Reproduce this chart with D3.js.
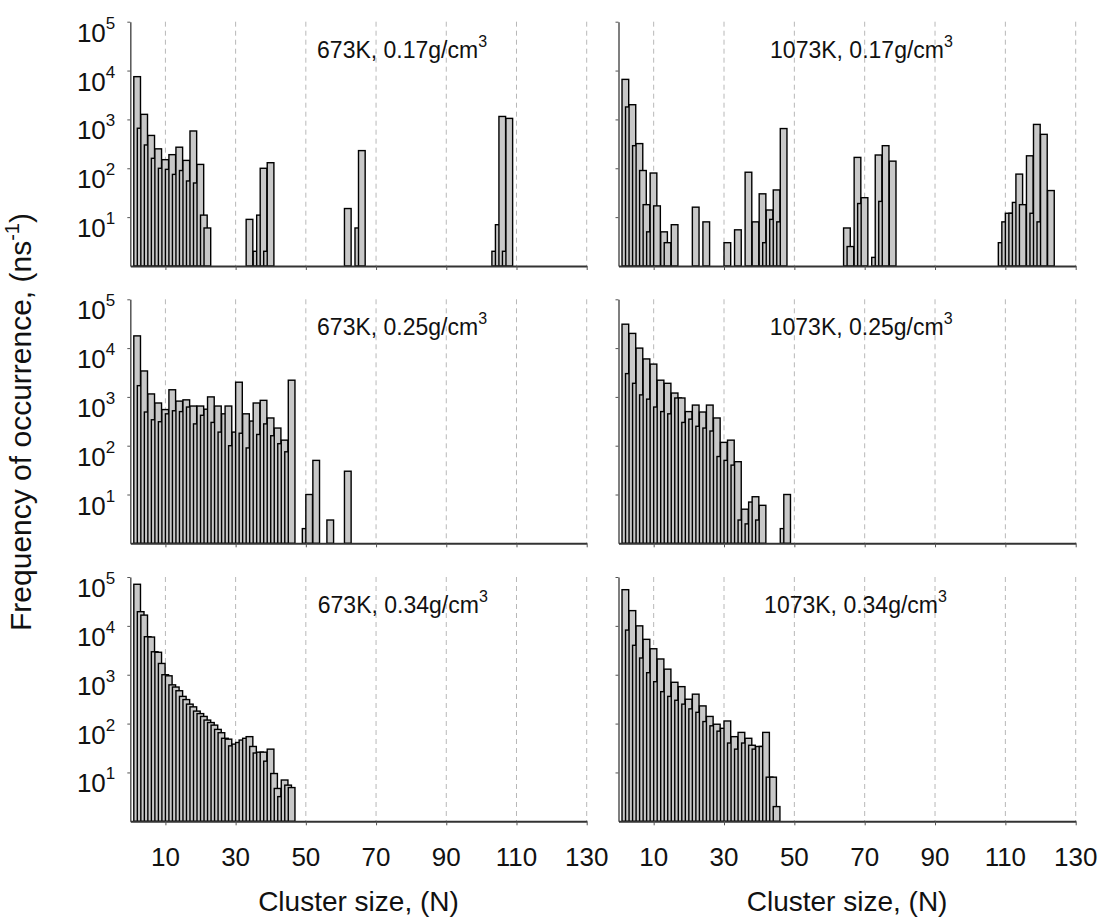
<!DOCTYPE html>
<html>
<head>
<meta charset="utf-8">
<script src="https://cdn.jsdelivr.net/npm/d3@7"></script>
<style>
  body { margin: 0; background: #fff; }
  text { font-family: Arial, "Liberation Sans", sans-serif; fill: #111; }
</style>
</head>
<body>
<svg width="1101" height="918"></svg>
<script>
// Frequency of occurrence (ns^-1) per cluster size, index 0 -> N = 1, 0 = not observed
var f673_017 = [
    7500, 660, 1270, 300, 470, 160, 250, 100, 150, 95,
    190, 75, 270, 90, 145, 55, 580, 50, 120, 11,
    6, 0, 0, 0, 0, 0, 0, 0, 0, 0,
    0, 0, 9, 0, 2, 11, 100, 2, 130, 0,
    0, 0, 0, 0, 0, 0, 0, 0, 0, 0,
    0, 0, 0, 0, 0, 0, 0, 0, 0, 0,
    15, 0, 0, 6, 230, 0, 0, 0, 0, 0,
    0, 0, 0, 0, 0, 0, 0, 0, 0, 0,
    0, 0, 0, 0, 0, 0, 0, 0, 0, 0,
    0, 0, 0, 0, 0, 0, 0, 0, 0, 0,
    0, 0, 2, 7, 1150, 2, 1050
];
var f1073_017 = [
    6600, 1800, 2000, 290, 320, 90, 18, 5, 80, 17,
    0, 5, 3, 0, 7, 0, 0, 0, 0, 0,
    16, 0, 0, 8, 0, 0, 0, 0, 0, 3,
    0, 0, 5.5, 0, 0, 83, 0, 8, 0, 30,
    3, 14, 9, 36, 8, 650, 0, 0, 0, 0,
    0, 0, 0, 0, 0, 0, 0, 0, 0, 0,
    0, 0, 0, 6, 2.5, 0, 167, 19, 25, 0,
    0, 1.5, 187, 21, 290, 0, 140, 0, 0, 0,
    0, 0, 0, 0, 0, 0, 0, 0, 0, 0,
    0, 0, 0, 0, 0, 0, 0, 0, 0, 0,
    0, 0, 0, 0, 0, 0, 0, 3, 8, 12,
    12, 20, 76, 18, 0, 180, 12, 790, 8, 495,
    0, 35
];
var f673_025 = [
    17800, 1700, 3400, 490, 1150, 340, 750, 310, 550, 450,
    1400, 520, 820, 500, 870, 620, 650, 280, 650, 420,
    560, 1000, 300, 650, 190, 450, 650, 100, 190, 2000,
    180, 450, 90, 320, 750, 170, 850, 280, 370, 160,
    230, 110, 130, 75, 2200, 0, 0, 0, 2, 10,
    0, 50, 0, 0, 0, 3, 0, 0, 0, 0,
    30
];
var f1073_025 = [
    30900, 3000, 20000, 1900, 10000, 1100, 6000, 900, 4700, 620,
    2200, 500, 1900, 450, 1200, 950, 950, 300, 500, 350,
    680, 250, 490, 230, 680, 200, 370, 60, 117, 50,
    130, 40, 47, 3, 5, 2.5, 7, 9, 3, 6,
    0, 0, 0, 0, 0, 2, 10
];
var f673_034 = [
    71000, 19500, 16600, 6000, 5900, 2950, 2880, 1700, 1000, 950,
    620, 560, 470, 360, 310, 250, 220, 180, 160, 140,
    118, 105, 93, 76, 65, 50, 48, 35, 38, 41,
    46, 50, 54, 34, 25, 26, 26, 17, 30, 9.5,
    4.7, 3.2, 7, 5.5, 4.9
];
var f1073_034 = [
    55000, 8200, 20500, 4000, 10000, 2200, 5300, 1100, 3400, 720,
    2100, 450, 1300, 360, 700, 300, 570, 250, 315, 200,
    400, 170, 230, 110, 140, 90, 97, 70, 80, 113,
    40, 54, 30, 66, 40, 50, 36, 30, 34, 34,
    66, 8, 8, 2
];

var temperatures = ['673K', '1073K'];
var densities = ['0.17', '0.25', '0.34'];
var xTicks = [10, 30, 50, 70, 90, 110, 130];
var yTicks = [1e1, 1e2, 1e3, 1e4, 1e5];

var svg = d3.select('svg');

// panel frames (pixels)
var cols = [{l: 130.3, r: 586.7}, {l: 618.5, r: 1075.7}];
var rows = [{t: 21.7, b: 266}, {t: 299.3, b: 543.3}, {t: 577, b: 821.3}];

var panels = [
    {freq: f673_017,  col: 0, row: 0, titleAt: 53.2},
    {freq: f1073_017, col: 1, row: 0, titleAt: 43.1},
    {freq: f673_025,  col: 0, row: 1, titleAt: 53.2},
    {freq: f1073_025, col: 1, row: 1, titleAt: 43.0},
    {freq: f673_034,  col: 0, row: 2, titleAt: 53.4},
    {freq: f1073_034, col: 1, row: 2, titleAt: 41.4}
];

panels.forEach(function(p) {
    var c = cols[p.col], r = rows[p.row];
    var x = d3.scaleLinear().domain([0, 130]).range([c.l, c.r]);
    var y = d3.scaleLog().domain([1, 1e5]).range([r.b, r.t]);
    var g = svg.append('g');

    // dashed vertical grid
    g.selectAll('.grid').data(xTicks).enter().append('line')
        .attr('class', 'grid')
        .attr('x1', function(d) { return x(d); })
        .attr('x2', function(d) { return x(d); })
        .attr('y1', r.t).attr('y2', r.b)
        .attr('stroke', '#b8b8b8')
        .attr('stroke-width', 1)
        .attr('stroke-dasharray', '5,4');

    // bars, drawn in order so each one overlaps the previous
    var bars = p.freq.map(function(v, i) { return {n: i + 1, v: v}; })
        .filter(function(d) { return d.v >= 1; });

    g.selectAll('.bar').data(bars).enter().append('rect')
        .attr('class', 'bar')
        .attr('x', function(d) { return x(d.n); })
        .attr('width', x(1.9) - x(0))
        .attr('y', function(d) { return y(d.v); })
        .attr('height', function(d) { return r.b - y(d.v); })
        .attr('fill', '#c8c8c8')
        .attr('stroke', '#000')
        .attr('stroke-width', 1.4);

    // y axis
    var yAxis = g.append('g')
        .attr('transform', 'translate(' + c.l + ',0)')
        .call(d3.axisLeft(y).tickValues(yTicks).tickSize(3).tickSizeOuter(0).tickFormat(''));
    yAxis.select('.domain').attr('stroke', '#555').attr('stroke-width', 1.5);
    yAxis.selectAll('.tick line').attr('stroke', '#555');

    // x axis
    var xAxis = g.append('g')
        .attr('transform', 'translate(0,' + r.b + ')')
        .call(d3.axisBottom(x).tickValues(xTicks).tickSize(4).tickSizeOuter(0).tickFormat(''));
    xAxis.select('.domain').attr('stroke', '#333').attr('stroke-width', 2);
    xAxis.selectAll('.tick line').attr('stroke', '#555');

    // decade labels on the left column
    if (p.col === 0) {
        var lab = g.selectAll('.ylab').data(yTicks).enter().append('text')
            .attr('class', 'ylab')
            .attr('x', c.l - 15)
            .attr('y', function(d) { return y(d) + 20; })
            .attr('text-anchor', 'end')
            .attr('font-size', 26);
        lab.append('tspan').text('10');
        lab.append('tspan')
            .attr('dy', -13)
            .attr('font-size', 17)
            .text(function(d) { return Math.round(Math.log10(d)); });
    }

    // cluster size labels on the bottom row
    if (p.row === 2) {
        g.selectAll('.xlab').data(xTicks).enter().append('text')
            .attr('class', 'xlab')
            .attr('x', function(d) { return x(d); })
            .attr('y', r.b + 45)
            .attr('text-anchor', 'middle')
            .attr('font-size', 26)
            .text(function(d) { return d; });

        g.append('text')
            .attr('x', (c.l + c.r) / 2)
            .attr('y', 911)
            .attr('text-anchor', 'middle')
            .attr('font-size', 28)
            .text('Cluster size, (N)');
    }

    // panel condition label
    var t = g.append('text')
        .attr('x', x(p.titleAt))
        .attr('y', r.t + 36)
        .attr('font-size', 23);
    t.append('tspan').text(temperatures[p.col] + ', ' + densities[p.row] + 'g/cm');
    t.append('tspan').attr('dy', -11).attr('font-size', 16).text('3');
});

// shared y title
var yt = svg.append('text')
    .attr('transform', 'translate(31,422) rotate(-90)')
    .attr('text-anchor', 'middle')
    .attr('font-size', 30);
yt.append('tspan').text('Frequency of occurrence, (ns');
yt.append('tspan').attr('dy', -12).attr('font-size', 20).text('-1');
yt.append('tspan').attr('dy', 12).text(')');
</script>
</body>
</html>
